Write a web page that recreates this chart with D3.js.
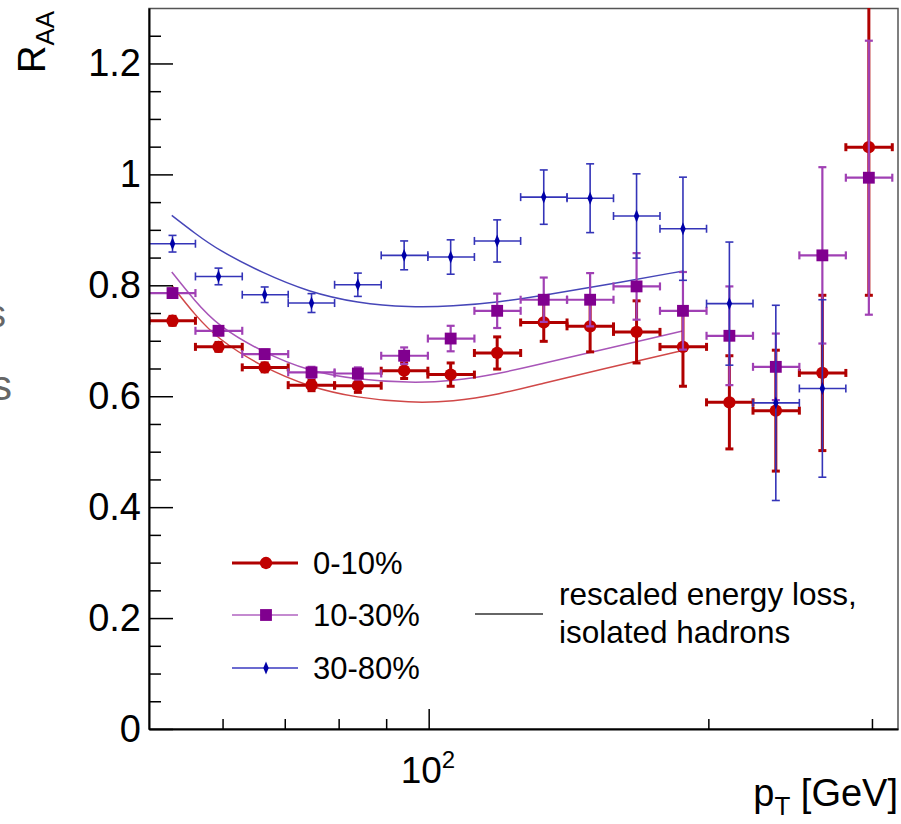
<!DOCTYPE html>
<html>
<head>
<meta charset="utf-8">
<script src="https://cdn.jsdelivr.net/npm/d3@7"></script>
<style>
  body { margin: 0; background: #fff; }
  svg { display: block; font-family: "Liberation Sans", Arial, sans-serif; }
</style>
</head>
<body>
<svg id="chart" width="901" height="824"></svg>
<script>
// pT bins [GeV]
const binEdges = [50, 56.1, 63.0, 70.6, 79.2, 88.9, 99.8, 112.0, 125.6, 140.9, 158.1, 177.4, 199.1, 223.4, 250.6, 281.2, 315.5];
const binCenters = [53.0, 59.4, 66.6, 74.8, 83.9, 94.1, 105.6, 118.5, 133.0, 149.2, 167.4, 187.8, 210.7, 236.4, 265.3, 297.7];

// R_AA per centrality class
const raa0010 = [0.736, 0.689, 0.652, 0.620, 0.619, 0.646, 0.639, 0.678, 0.733, 0.726, 0.716, 0.689, 0.589, 0.574, 0.642, 1.049];
const err0010 = [0.008, 0.008, 0.008, 0.010, 0.012, 0.014, 0.021, 0.029, 0.034, 0.046, 0.056, 0.071, 0.084, 0.109, 0.140, 0.267];
const raa1030 = [0.786, 0.718, 0.676, 0.643, 0.641, 0.673, 0.704, 0.754, 0.774, 0.774, 0.798, 0.754, 0.709, 0.653, 0.854, 0.994];
const err1030 = [0.008, 0.008, 0.008, 0.010, 0.011, 0.015, 0.023, 0.031, 0.040, 0.048, 0.060, 0.070, 0.089, 0.060, 0.159, 0.247];
const raa3080 = [0.875, 0.816, 0.783, 0.768, 0.801, 0.854, 0.851, 0.880, 0.959, 0.957, 0.925, 0.902, 0.767, 0.588, 0.614];
const err3080 = [0.015, 0.015, 0.014, 0.017, 0.021, 0.026, 0.031, 0.038, 0.049, 0.062, 0.076, 0.093, 0.111, 0.176, 0.160];

// rescaled energy loss curves
const curvePt   = [52.9, 56.0, 59.3, 66.3, 74.3, 83.7, 95.5, 106.0, 119.4, 131.9, 153.0, 188.1];
const curve0010 = [0.800, 0.747, 0.703, 0.652, 0.617, 0.597, 0.588, 0.590, 0.604, 0.622, 0.648, 0.683];
const curve1030 = [0.824, 0.772, 0.727, 0.679, 0.645, 0.630, 0.624, 0.627, 0.641, 0.658, 0.683, 0.718];
const curve3080 = [0.926, 0.894, 0.864, 0.822, 0.788, 0.768, 0.760, 0.762, 0.770, 0.781, 0.799, 0.826];

const legendLabels = ['0-10%', '10-30%', '30-80%'];
const yMajorTicks = [0, 0.2, 0.4, 0.6, 0.8, 1.0, 1.2];
const yTickLabels = ['0', '0.2', '0.4', '0.6', '0.8', '1', '1.2'];
const xMinorTicks = [60, 70, 80, 90, 200, 300];
const xMajorTicks = [100];

const svg = d3.select('#chart');
const x = d3.scaleLog().domain([50, 320]).range([149, 898]);
const y = d3.scaleLinear().domain([0, 1.3]).range([729, 8]);

const series = [
  { values: raa0010, errors: err0010, curve: curve0010, marker: '#c00000', bar: '#b00000', line: '#d04848', barW: 3, symbol: d3.symbolCircle, size: 120, legLine: '#b00000' },
  { values: raa1030, errors: err1030, curve: curve1030, marker: '#80008f', bar: '#a040b4', line: '#a855b8', barW: 2.2, symbol: d3.symbolSquare, size: 140, legLine: '#c48ad0' },
  { values: raa3080, errors: err3080, curve: curve3080, marker: '#0000a8', bar: '#3434b8', line: '#4646b8', barW: 1.6, symbol: d3.symbolDiamond, size: 40, legLine: '#3a3ac0' }
];

// clipping to frame
svg.append('defs').append('clipPath').attr('id', 'plot')
  .append('rect').attr('x', 149).attr('y', 8).attr('width', 749).attr('height', 721);

// cropped letters at left edge (neighbouring panel)
svg.append('text').attr('x', 6).attr('y', 327).attr('text-anchor', 'end')
  .attr('font-size', 38).attr('fill', '#666').text('s');
svg.append('text').attr('x', 12).attr('y', 400).attr('text-anchor', 'end')
  .attr('font-size', 42).attr('fill', '#666').text('s');

// frame
svg.append('rect').attr('x', 149).attr('y', 8.5).attr('width', 749).attr('height', 720.5)
  .attr('fill', 'none').attr('stroke', '#555').attr('stroke-width', 1.5);

const plot = svg.append('g').attr('clip-path', 'url(#plot)');

// theory curves
const curveLine = d3.line().x((d, i) => x(curvePt[i])).y(d => y(d)).curve(d3.curveBasis);
series.forEach(s => {
  plot.append('path').attr('d', curveLine(s.curve))
    .attr('fill', 'none').attr('stroke', s.line).attr('stroke-width', 1.5);
});

// data points with error bars
series.forEach(s => {
  const g = plot.append('g');
  const cap = 4;
  s.values.forEach((v, i) => {
    const cx = x(binCenters[i]), cy = y(v);
    const x0 = x(binEdges[i]), x1 = x(binEdges[i + 1]);
    const yt = y(v + s.errors[i]), yb = y(v - s.errors[i]);
    const seg = (a, b, c, d) => g.append('line').attr('x1', a).attr('y1', b).attr('x2', c).attr('y2', d)
      .attr('stroke', s.bar).attr('stroke-width', s.barW);
    seg(x0, cy, x1, cy);
    seg(x0, cy - cap, x0, cy + cap);
    seg(x1, cy - cap, x1, cy + cap);
    seg(cx, yt, cx, yb);
    seg(cx - cap, yt, cx + cap, yt);
    seg(cx - cap, yb, cx + cap, yb);
  });
  g.selectAll('path.m').data(s.values).join('path').attr('class', 'm')
    .attr('transform', (d, i) => `translate(${x(binCenters[i])},${y(d)})` + (s.symbol === d3.symbolDiamond ? ' scale(0.8,1.1)' : ''))
    .attr('d', d3.symbol().type(s.symbol).size(s.size))
    .attr('fill', s.marker);
});

// y axis
const yAxis = svg.append('g').attr('transform', 'translate(149,0)')
  .call(d3.axisLeft(y).tickValues(yMajorTicks).tickSize(-24).tickSizeOuter(0).tickPadding(8)
    .tickFormat((d, i) => yTickLabels[i]));
const yMinor = svg.append('g').attr('transform', 'translate(149,0)')
  .call(d3.axisLeft(y).tickValues(d3.range(0.05, 1.3, 0.05).filter(v => Math.abs(v * 5 - Math.round(v * 5)) > 1e-6))
    .tickSize(-12).tickFormat(''));
yMinor.select('.domain').remove();

// x axis
const xAxis = svg.append('g').attr('transform', 'translate(0,729)')
  .call(d3.axisBottom(x).tickValues(xMajorTicks).tickSize(-20).tickSizeOuter(0).tickFormat(''));
const xMinor = svg.append('g').attr('transform', 'translate(0,729)')
  .call(d3.axisBottom(x).tickValues(xMinorTicks).tickSize(-10).tickFormat(''));
xMinor.select('.domain').remove();

[yAxis, yMinor, xAxis, xMinor].forEach(a => {
  a.selectAll('.domain').attr('stroke', '#000').attr('stroke-width', 2);
  a.selectAll('.tick line').attr('stroke', '#000').attr('stroke-width', 1.5);
  a.selectAll('.tick text').attr('font-size', 38).attr('fill', '#000').attr('font-family', null);
});

// 10^2 label
const tenLabel = svg.append('text').attr('x', x(100) - 28).attr('y', 783).attr('font-size', 37);
tenLabel.append('tspan').text('10');
tenLabel.append('tspan').attr('font-size', 24).attr('dy', -15).text('2');

// axis titles
const xTitle = svg.append('text').attr('x', 898).attr('y', 806).attr('text-anchor', 'end').attr('font-size', 38);
xTitle.append('tspan').text('p');
xTitle.append('tspan').attr('font-size', 26).attr('dy', 9).text('T');
xTitle.append('tspan').attr('dy', -9).text(' [GeV]');

const yTitle = svg.append('text').attr('transform', 'translate(45,73) rotate(-90)').attr('font-size', 38);
yTitle.append('tspan').text('R');
yTitle.append('tspan').attr('font-size', 26).attr('dy', 9).text('AA');

// legend
const legY = [563, 615, 668];
series.forEach((s, i) => {
  const lg = svg.append('g').attr('transform', `translate(0,${legY[i]})`);
  lg.append('line').attr('x1', 232).attr('x2', 298).attr('stroke', s.legLine).attr('stroke-width', s.barW);
  lg.append('path').attr('transform', 'translate(266,0)' + (s.symbol === d3.symbolDiamond ? ' scale(0.8,1.1)' : ''))
    .attr('d', d3.symbol().type(s.symbol).size(s.size)).attr('fill', s.marker);
  lg.append('text').attr('x', 313).attr('y', 11).attr('font-size', 31).text(legendLabels[i]);
});
svg.append('line').attr('x1', 475).attr('x2', 543).attr('y1', 614).attr('y2', 614)
  .attr('stroke', '#333').attr('stroke-width', 1.5);
svg.append('text').attr('x', 559).attr('y', 605).attr('font-size', 31.5).text('rescaled energy loss,');
svg.append('text').attr('x', 559).attr('y', 643).attr('font-size', 31.5).text('isolated hadrons');
</script>
</body>
</html>
